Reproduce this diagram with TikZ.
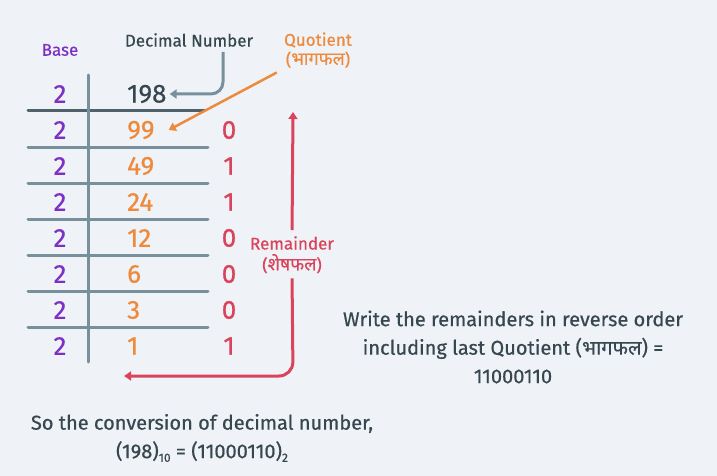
\documentclass[tikz,border=0pt]{standalone}
\usepackage{fontspec}
\setmainfont{Fira Sans}[UprightFeatures={FakeBold=0.6}]
\newfontfamily\hindi[Script=Devanagari, UprightFeatures={FakeBold=0.4}]{Noto Sans}
\usetikzlibrary{positioning}
\usetikzlibrary{arrows.meta}
\definecolor{bgcol}{HTML}{EFF3F7}
\definecolor{basepurple}{HTML}{7E2FC4}
\definecolor{quotorange}{HTML}{EE8A3C}
\definecolor{remred}{HTML}{D9435B}
\definecolor{textgray}{HTML}{37474F}
\definecolor{linegray}{HTML}{78909C}
\definecolor{topgray}{HTML}{4F626C}

\begin{document}
\begin{tikzpicture}[x=1pt, y=-1pt,
basenode/.style={text=basepurple, font=\fontsize{26}{26}\selectfont, inner sep=0pt},
quotnode/.style={text=quotorange, font=\fontsize{26}{26}\selectfont, inner sep=0pt, anchor=west},
remnode/.style={text=remred, font=\fontsize{26}{26}\selectfont, inner sep=0pt},
labelnode/.style={font=\fontsize{17}{19}\selectfont, inner sep=0pt},
infonode/.style={text=textgray, font=\fontsize{20}{28.5}\selectfont, align=center, inner sep=0pt},
rowline/.style={draw=linegray, line width=3pt, line cap=round},
grayarrow/.style={draw=linegray, line width=3pt, -{Triangle[length=7pt, width=9pt]}},
orangearrow/.style={draw=quotorange, line width=2.5pt, -{Triangle[length=7pt, width=9pt]}},
redarrow/.style={draw=remred, line width=3pt, -{Triangle[length=7pt, width=9pt]}},
]
\fill[bgcol] (0,0) rectangle (717,476);
\useasboundingbox (0,0) rectangle (717,476);

%Labels
\node[labelnode, text=basepurple]             (base)      at (60,50)    {Base};
\node[labelnode, text=textgray]               (decimal)   at (189,40)   {Decimal Number};
\node[labelnode, text=quotorange]             (quot)      at (318,40)   {Quotient};
\node[labelnode, text=quotorange, font=\fontsize{18}{19}\selectfont, below=4pt of quot] (quothi) {\hindi(भागफल)};
\node[labelnode, text=remred]                 (remlabel)  at (292,243)  {Remainder};
\node[labelnode, text=remred, font=\fontsize{18}{19}\selectfont, below=4pt of remlabel] (remhi) {\hindi(शेषफल)};

%Table
\node[basenode] (b1) at (60,94) {2};
\node[quotnode, text=textgray] (q1) at (127,94) {198};
\foreach \i/\q/\r in {2/99/0,3/49/1,4/24/1,5/12/0,6/6/0,7/3/0,8/1/1} {
  \node[basenode] (b\i) at (60,{94+36*(\i-1)}) {2};
  \node[quotnode] (q\i) at (127,{94+36*(\i-1)}) {\q};
  \node[remnode] (r\i) at (229,{94+36*(\i-1)}) {\r};
}
\draw[rowline, draw=topgray] (28,111) -- (205,111);
\foreach \y in {147,183,219,255,291,327}
  \draw[rowline] (28,\y) -- (208,\y);
\draw[rowline] (88,75) -- (88,362);

%Lines
\coordinate (dtop) at (223,52);
\coordinate (remtop) at (293,112);
\coordinate (rembottom) at (293,376);
\coordinate (remend) at (124,376);
\draw[grayarrow, rounded corners=12pt, shorten >=3pt] (dtop) |- (q1.east);
\draw[orangearrow, shorten <=10pt] (quothi.south west) -- ([xshift=14pt]q2.east);
\draw[redarrow, shorten <=6pt] (remlabel.north) -- (remtop);
\draw[redarrow, rounded corners=14pt, shorten <=5pt] (remhi.south) -- (rembottom) -- (remend);

%Text
\node[infonode] (write) at (513,347) {Write the remainders in reverse order\\including last Quotient ({\hindi भागफल}) =\\11000110};
\node[infonode] (result) at (202,438) {So the conversion of decimal number,\\(198)\raisebox{-0.35ex}{\fontsize{12}{12}\selectfont 10} = (11000110)\raisebox{-0.35ex}{\fontsize{12}{12}\selectfont 2}};
\end{tikzpicture}
\end{document}
